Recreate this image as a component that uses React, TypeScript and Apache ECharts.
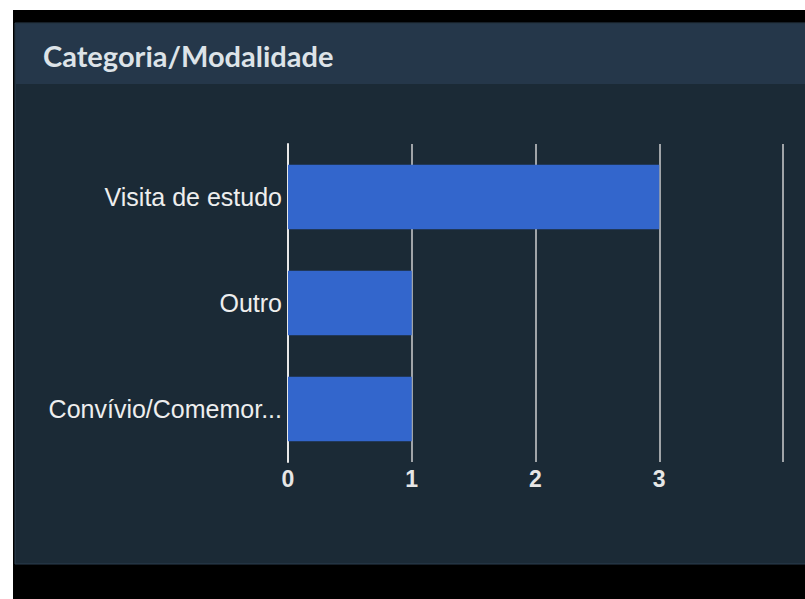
import React, { useEffect, useRef } from "react";
import * as echarts from "echarts";

const categories = ["Convívio/Comemoração", "Outro", "Visita de estudo"];
const values = [1, 1, 3];
const xTicks = [0, 1, 2, 3, 4];
const title = "Categoria/Modalidade";
const maxLabelChars = 16;

export default function App() {
  const ref = useRef<HTMLDivElement>(null);
  useEffect(() => {
    const chart = echarts.init(ref.current!, null, { renderer: "svg" });
    chart.setOption({
      animation: false,
      backgroundColor: "#ffffff",
      graphic: [
        { type: "rect", z: -10, shape: { x: 13, y: 10, width: 792, height: 589 }, style: { fill: "#000000" } },
        { type: "rect", z: -9, shape: { x: 15, y: 23, width: 792, height: 541 }, style: { fill: "#1b2a36", stroke: "#2c3e50", lineWidth: 1 } },
        { type: "rect", z: -8, shape: { x: 16, y: 24, width: 790, height: 60 }, style: { fill: "#25374a" } },
        {
          type: "text", z: 10, x: 43, y: 55,
          style: { text: title, fill: "#dde3e8", font: "bold 29px Lato", textVerticalAlign: "middle" },
        },
      ],
      grid: { left: 288, right: 22, top: 144, bottom: 137, containLabel: false },
      xAxis: {
        type: "value", min: xTicks[0], max: xTicks[xTicks.length - 1], interval: 1,
        axisLine: { show: false }, axisTick: { show: false },
        splitLine: { show: true, lineStyle: { color: "#a0a4a8", width: 2 } },
        axisLabel: {
          showMaxLabel: false, color: "#e6e6e6", fontSize: 23, fontWeight: "bold",
          fontFamily: "Liberation Sans", margin: 5,
        },
      },
      yAxis: {
        type: "category", data: categories,
        axisLine: { show: true, lineStyle: { color: "#e8e8e8", width: 2 } },
        axisTick: { show: false },
        axisLabel: {
          color: "#eeeeee", fontSize: 25, fontFamily: "Liberation Sans", margin: 6,
          formatter: (v: string) => (v.length > maxLabelChars + 2 ? v.slice(0, maxLabelChars) + "..." : v),
        },
      },
      series: [{
        type: "bar", data: values, barWidth: "61%",
        itemStyle: { color: "#3366cc" }, z: 1,
      }],
    });
    return () => chart.dispose();
  }, []);
  return <div ref={ref} style={{ position: "absolute", left: 0, top: 0, width: 805, height: 599 }} />;
}
